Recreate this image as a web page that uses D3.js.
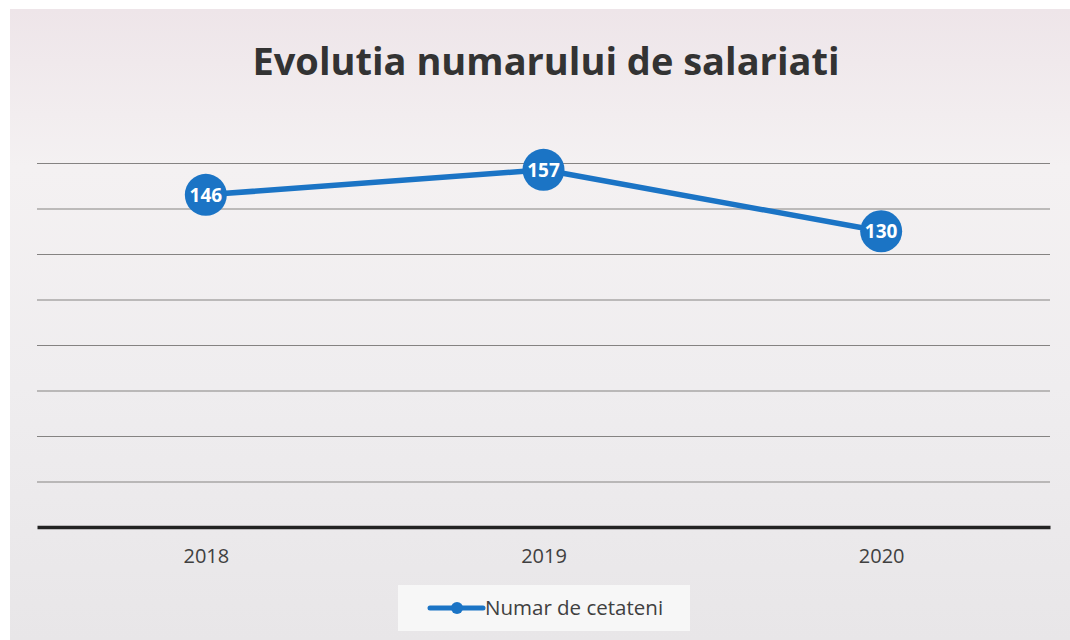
<!DOCTYPE html>
<html><head><meta charset="utf-8">
<script src="https://cdn.jsdelivr.net/npm/d3@7"></script>
<style>body{margin:0;background:#fff;}svg{display:block;}</style>
</head><body>
<svg id="c" width="1070" height="640"></svg>
<script>
const categories = ["2018", "2019", "2020"];
const values = [146, 157, 130];
const yTicks = [20, 40, 60, 80, 100, 120, 140, 160];
const seriesName = "Numar de cetateni";
const title = "Evolutia numarului de salariati";

const svg = d3.select("#c");
const defs = svg.append("defs");
const g1 = defs.append("linearGradient").attr("id","bg").attr("x1",0).attr("y1",0).attr("x2",0).attr("y2",1);
g1.append("stop").attr("offset","0").attr("stop-color","#eee5e9");
g1.append("stop").attr("offset","0.25").attr("stop-color","#f4f1f2");
g1.append("stop").attr("offset","0.6").attr("stop-color","#efedef");
g1.append("stop").attr("offset","1").attr("stop-color","#e8e6e8");
svg.append("rect").attr("x",10).attr("y",9).attr("width",1060).attr("height",631).attr("fill","url(#bg)");

const m = {left:37, right:1050, top:163, bottom:527};
const x = d3.scalePoint().domain(categories).range([m.left, m.right]).padding(0.5);
const y = d3.scaleLinear().domain([0,160]).range([m.bottom, m.top]);

// gridlines
svg.append("g").attr("transform",`translate(${m.left},0)`)
  .call(d3.axisLeft(y).tickValues(yTicks).tickSize(-(m.right-m.left)).tickFormat(""))
  .call(g=>g.select(".domain").remove())
  .call(g=>g.selectAll("line").attr("stroke","#858382").attr("stroke-width",1.2));

// baseline + x labels
svg.append("g").attr("transform",`translate(0,${m.bottom})`)
  .call(d3.axisBottom(x).tickSize(0).tickPadding(22))
  .call(g=>g.select(".domain").attr("stroke","#222").attr("stroke-width",3.5))
  .call(g=>g.selectAll("text").attr("font-family","Open Sans, sans-serif").attr("font-size",20).attr("fill","#404040"));

const color = "#1b74c5";
const line = d3.line().x((d,i)=>x(categories[i])).y(d=>y(d));
svg.append("path").datum(values).attr("d",line).attr("fill","none").attr("stroke",color).attr("stroke-width",5.5).attr("stroke-linejoin","round");

const pts = svg.append("g").selectAll("g").data(values).join("g")
  .attr("transform",(d,i)=>`translate(${x(categories[i])},${y(d)})`);
pts.append("circle").attr("r",21).attr("fill",color);
pts.append("text").text(d=>d).attr("text-anchor","middle").attr("dy","0.36em")
  .attr("font-family","Open Sans, sans-serif").attr("font-weight","bold").attr("font-size",19).attr("fill","#fff");

// title
svg.append("text").attr("x",546).attr("y",75).attr("text-anchor","middle")
  .attr("font-family","Open Sans, sans-serif").attr("font-weight","bold").attr("font-size",38).attr("fill","#333")
  .text(title);

// legend
const lg = svg.append("g");
lg.append("rect").attr("x",398).attr("y",585).attr("width",292).attr("height",46).attr("fill","#f7f7f7");
lg.append("line").attr("x1",430).attr("x2",483).attr("y1",608).attr("y2",608).attr("stroke",color).attr("stroke-width",5).attr("stroke-linecap","round");
lg.append("circle").attr("cx",457).attr("cy",608).attr("r",6).attr("fill",color);
lg.append("text").attr("x",485).attr("y",608).attr("dy","0.35em").attr("font-family","Open Sans, sans-serif").attr("font-size",20.5).attr("fill","#404040").text(seriesName);
</script>
</body></html>
